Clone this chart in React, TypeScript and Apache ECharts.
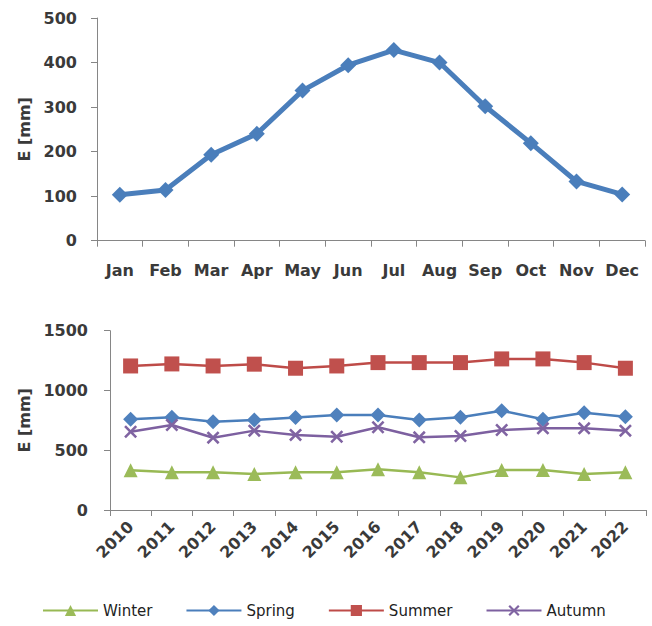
import React, { useEffect, useRef } from "react";
import * as echarts from "echarts";

const months = ["Jan", "Feb", "Mar", "Apr", "May", "Jun", "Jul", "Aug", "Sep", "Oct", "Nov", "Dec"];
const monthlyE = [103, 114, 193, 240, 337, 394, 428, 400, 302, 219, 133, 104];

const years = ["2010", "2011", "2012", "2013", "2014", "2015", "2016", "2017", "2018", "2019", "2020", "2021", "2022"];
const winter = [332, 315, 315, 301, 315, 315, 340, 315, 273, 335, 335, 301, 315];
const spring = [759, 776, 739, 753, 773, 795, 795, 753, 776, 831, 759, 814, 781];
const summer = [1205, 1222, 1205, 1220, 1186, 1205, 1233, 1233, 1233, 1264, 1264, 1233, 1186];
const autumn = [655, 711, 605, 664, 628, 613, 692, 608, 619, 669, 683, 683, 664];

const FONT = "DejaVu Sans";
const AXIS_COLOR = "#868686";
const LABEL_COLOR = "#3a3a3a";
const X_SYMBOL = "path://M0,1.4L1.4,0L5,3.6L8.6,0L10,1.4L6.4,5L10,8.6L8.6,10L5,6.4L1.4,10L0,8.6L3.6,5Z";

export default function App() {
  const ref = useRef<HTMLDivElement>(null);
  useEffect(() => {
    if (!ref.current) return;
    const chart = echarts.init(ref.current, null, { renderer: "svg" });
    const axisLine = { show: true, lineStyle: { color: AXIS_COLOR, width: 1 } };
    const axisTick = { show: true, inside: false, length: 6, lineStyle: { color: AXIS_COLOR } };
    const labelStyle = { fontFamily: FONT, fontSize: 16, fontWeight: "bold" as const, color: LABEL_COLOR };
    const plain = (v: number) => String(v);
    chart.setOption({
      animation: false,
      backgroundColor: "#ffffff",
      grid: [
        { left: 97, top: 18, width: 548, height: 222.7 },
        { left: 110, top: 330.7, width: 536, height: 179.3 },
      ],
      legend: {
        data: ["Winter", "Spring", "Summer", "Autumn"],
        left: 37,
        top: 598,
        itemWidth: 55,
        itemHeight: 14,
        itemGap: 33,
        textStyle: { fontFamily: FONT, fontSize: 15, color: "#222222" },
      },
      xAxis: [
        {
          type: "category",
          gridIndex: 0,
          data: months,
          boundaryGap: true,
          axisLine,
          axisTick,
          axisLabel: { ...labelStyle, margin: 22, interval: 0 },
          splitLine: { show: false },
        },
        {
          type: "category",
          gridIndex: 1,
          data: years,
          boundaryGap: true,
          axisLine,
          axisTick,
          axisLabel: { ...labelStyle, margin: 14, rotate: 45, interval: 0 },
          splitLine: { show: false },
        },
      ],
      yAxis: [
        {
          type: "value",
          gridIndex: 0,
          min: 0,
          max: 500,
          interval: 100,
          axisLine,
          axisTick,
          axisLabel: { ...labelStyle, margin: 20, formatter: plain },
          splitLine: { show: false },
          name: "E [mm]",
          nameLocation: "middle",
          nameRotate: 90,
          nameGap: 65,
          nameTextStyle: { ...labelStyle },
        },
        {
          type: "value",
          gridIndex: 1,
          min: 0,
          max: 1500,
          interval: 500,
          axisLine,
          axisTick,
          axisLabel: { ...labelStyle, margin: 22, formatter: plain },
          splitLine: { show: false },
          name: "E [mm]",
          nameLocation: "middle",
          nameRotate: 90,
          nameGap: 77,
          nameTextStyle: { ...labelStyle },
        },
      ],
      series: [
        {
          name: "Monthly",
          type: "line",
          xAxisIndex: 0,
          yAxisIndex: 0,
          data: monthlyE,
          symbol: "diamond",
          symbolSize: 16,
          lineStyle: { color: "#4A7EBB", width: 5 },
          itemStyle: { color: "#4A7EBB" },
        },
        {
          name: "Winter",
          type: "line",
          xAxisIndex: 1,
          yAxisIndex: 1,
          data: winter,
          symbol: "triangle",
          symbolSize: 14,
          lineStyle: { color: "#98B954", width: 2.5 },
          itemStyle: { color: "#9BBB59" },
        },
        {
          name: "Spring",
          type: "line",
          xAxisIndex: 1,
          yAxisIndex: 1,
          data: spring,
          symbol: "diamond",
          symbolSize: 15,
          lineStyle: { color: "#4A7EBB", width: 2.5 },
          itemStyle: { color: "#4F81BD" },
        },
        {
          name: "Summer",
          type: "line",
          xAxisIndex: 1,
          yAxisIndex: 1,
          data: summer,
          symbol: "rect",
          symbolSize: 15,
          lineStyle: { color: "#BE4B48", width: 2.5 },
          itemStyle: { color: "#C0504D" },
        },
        {
          name: "Autumn",
          type: "line",
          xAxisIndex: 1,
          yAxisIndex: 1,
          data: autumn,
          symbol: X_SYMBOL,
          symbolSize: 13,
          lineStyle: { color: "#7D60A0", width: 2.5 },
          itemStyle: { color: "#8064A2" },
        },
      ],
    });
    return () => chart.dispose();
  }, []);
  return (
    <div
      ref={ref}
      style={{ position: "fixed", left: 0, top: 0, width: 652, height: 626, background: "#fff" }}
    />
  );
}
